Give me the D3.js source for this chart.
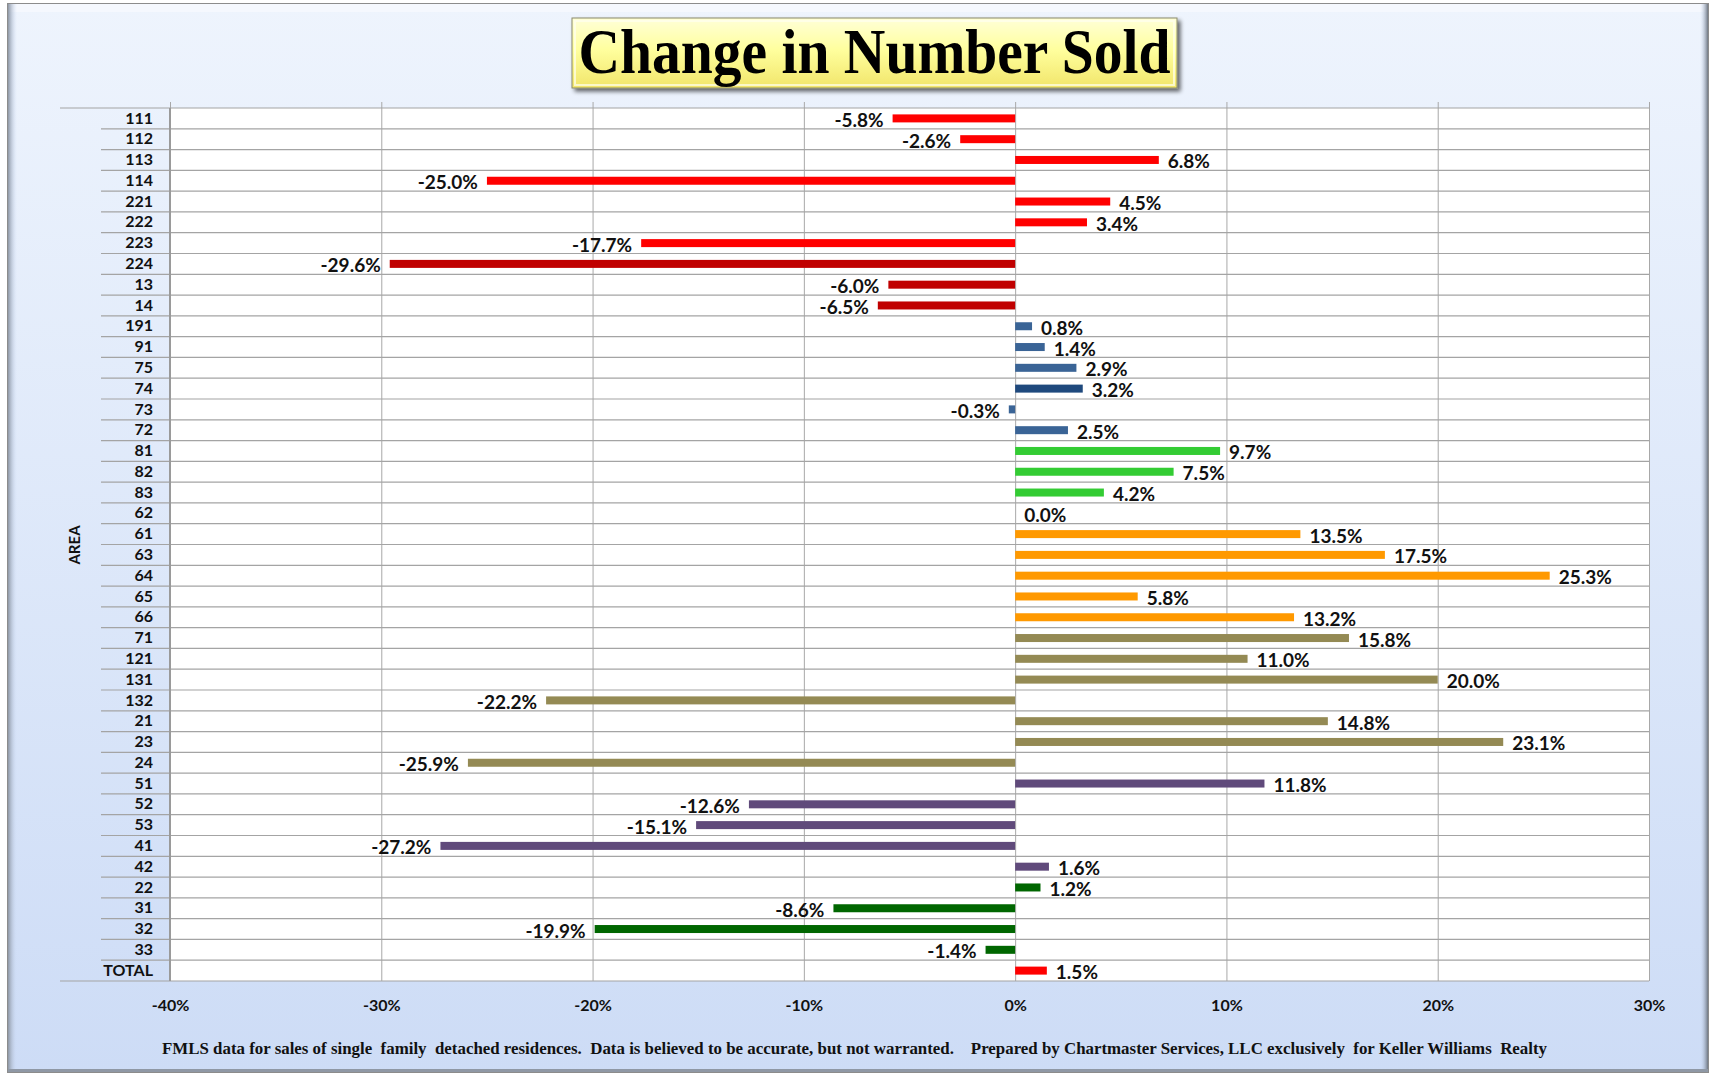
<!DOCTYPE html>
<html>
<head>
<meta charset="utf-8">
<script src="https://d3js.org/d3.v7.min.js"></script>
<style>
  body { margin: 0; background: #fff; }
  svg { display: block; }
  .lbl { font-family: Lato, "Open Sans", sans-serif; font-weight: 700; fill: #111; }
</style>
</head>
<body>
<script>
// areas top to bottom, change in number sold (%) and colour group
const areas = ["111","112","113","114","221","222","223","224","13","14",
  "191","91","75","74","73","72","81","82","83","62",
  "61","63","64","65","66","71","121","131","132","21",
  "23","24","51","52","53","41","42","22","31","32","33","TOTAL"];
const changes = [-5.8,-2.6,6.8,-25.0,4.5,3.4,-17.7,-29.6,-6.0,-6.5,
  0.8,1.4,2.9,3.2,-0.3,2.5,9.7,7.5,4.2,0.0,
  13.5,17.5,25.3,5.8,13.2,15.8,11.0,20.0,-22.2,14.8,
  23.1,-25.9,11.8,-12.6,-15.1,-27.2,1.6,1.2,-8.6,-19.9,-1.4,1.5];
const groups = ["red","red","red","red","red","red","red","darkred","darkred","darkred",
  "blue","blue","blue","navy","blue","blue","lime","lime","lime","orange",
  "orange","orange","orange","orange","orange","olive","olive","olive","olive","olive",
  "olive","olive","purple","purple","purple","purple","purple","green","green","green","green","red"];
const xTicks = [-0.4,-0.3,-0.2,-0.1,0,0.1,0.2,0.3];

const colors = {red:"#ff0000", darkred:"#c00000", blue:"#3a6496", navy:"#1f497d",
  lime:"#33cc33", orange:"#ff9900", olive:"#948a54", purple:"#604a7b", green:"#006600"};

const W = 1716, H = 1075;
const pLeft = 170, pRight = 1649, pTop = 108, pBottom = 981;

const svg = d3.select("body").append("svg").attr("width", W).attr("height", H);
const defs = svg.append("defs");

const bg = defs.append("linearGradient").attr("id","bg").attr("x1",0).attr("y1",0).attr("x2",0).attr("y2",1);
bg.append("stop").attr("offset","0%").attr("stop-color","#eef4fd");
bg.append("stop").attr("offset","100%").attr("stop-color","#cddcf6");

const tg = defs.append("linearGradient").attr("id","tg").attr("x1",0).attr("y1",0).attr("x2",0).attr("y2",1);
tg.append("stop").attr("offset","0%").attr("stop-color","#ffffd8");
tg.append("stop").attr("offset","45%").attr("stop-color","#ffff9e");
tg.append("stop").attr("offset","100%").attr("stop-color","#f1e56a");

const rg = defs.append("linearGradient").attr("id","rg").attr("x1",0).attr("y1",0).attr("x2",1).attr("y2",0);
rg.append("stop").attr("offset","0%").attr("stop-color","#cddcf6").attr("stop-opacity",0);
rg.append("stop").attr("offset","100%").attr("stop-color","#6f7782");

const lg = defs.append("linearGradient").attr("id","lg").attr("x1",0).attr("y1",0).attr("x2",1).attr("y2",0);
lg.append("stop").attr("offset","0%").attr("stop-color","#8d96a3");
lg.append("stop").attr("offset","100%").attr("stop-color","#cddcf6").attr("stop-opacity",0);

const sh = defs.append("filter").attr("id","sh").attr("x","-10%").attr("y","-30%").attr("width","120%").attr("height","160%");
sh.append("feGaussianBlur").attr("in","SourceAlpha").attr("stdDeviation",2);
sh.append("feOffset").attr("dx",3).attr("dy",3).attr("result","o");
sh.append("feComponentTransfer").append("feFuncA").attr("type","linear").attr("slope",0.6);
const mg = sh.append("feMerge");
mg.append("feMergeNode");
mg.append("feMergeNode").attr("in","SourceGraphic");

// frame
svg.append("rect").attr("x",7.5).attr("y",3.5).attr("width",1701).attr("height",1069)
  .attr("fill","url(#bg)").attr("stroke","#8c8c8c");
svg.append("rect").attr("x",8).attr("y",4).attr("width",1700).attr("height",8).attr("fill","#f6f9fe").attr("opacity",0.8);
svg.append("rect").attr("x",8).attr("y",4).attr("width",9).attr("height",1068).attr("fill","url(#lg)");
svg.append("rect").attr("x",1700).attr("y",4).attr("width",8).attr("height",1068).attr("fill","url(#rg)");
svg.append("rect").attr("x",8).attr("y",1069).attr("width",1700).attr("height",3).attr("fill","#8f98a5");

// scales
const x = d3.scaleLinear().domain([-0.4, 0.3]).range([pLeft, pRight]);
const y = d3.scaleBand().domain(areas).range([pTop, pBottom]);

// plot area
svg.append("rect").attr("x",pLeft).attr("y",pTop).attr("width",pRight-pLeft).attr("height",pBottom-pTop).attr("fill","#fff");

// vertical gridlines + tick labels
const xAxis = svg.append("g").attr("transform","translate(0,"+pBottom+")")
  .call(d3.axisBottom(x).tickValues(xTicks).tickSize(-(pBottom-pTop+6)).tickPadding(19)
    .tickFormat(d => Math.round(d*100) + "%"));
xAxis.select(".domain").remove();
xAxis.selectAll("line").attr("stroke","#a8a8a8");
xAxis.selectAll("text").attr("class","lbl").style("font-size","16px");

// row separators
const bounds = areas.map(a => y(a)).concat([pBottom]);
svg.append("g").selectAll("line").data(bounds).join("line")
  .attr("x1",(d,i) => (i === 0 || i === bounds.length-1) ? 60 : 101)
  .attr("x2",pRight)
  .attr("y1",d => d).attr("y2",d => d)
  .attr("stroke","#a4a4a4").attr("stroke-width",1.2);

svg.append("line").attr("x1",pLeft).attr("x2",pLeft).attr("y1",pTop).attr("y2",pBottom)
  .attr("stroke","#9a9a9a").attr("stroke-width",2);

// category axis
const yAxis = svg.append("g").attr("transform","translate("+pLeft+",0)")
  .call(d3.axisLeft(y).tickSize(0).tickPadding(17));
yAxis.select(".domain").remove();
yAxis.selectAll("text").attr("class","lbl").style("font-size","16px");

svg.append("text").attr("class","lbl").attr("transform","translate(80,545) rotate(-90)")
  .attr("text-anchor","middle").style("font-size","15px").text("AREA");

// bars
const bh = 8;
svg.append("g").selectAll("rect").data(areas).join("rect")
  .attr("x",(d,i) => x(Math.min(0, changes[i]/100)))
  .attr("width",(d,i) => Math.abs(x(changes[i]/100) - x(0)))
  .attr("y",d => y(d) + y.bandwidth()/2 - bh/2)
  .attr("height",bh)
  .attr("fill",(d,i) => colors[groups[i]]);

// data labels
svg.append("g").selectAll("text").data(areas).join("text")
  .attr("class","lbl")
  .style("font-size","19px")
  .attr("x",(d,i) => changes[i] >= 0 ? x(changes[i]/100) + 9 : x(changes[i]/100) - 9)
  .attr("y",d => y(d) + y.bandwidth()/2 + 8.5)
  .attr("text-anchor",(d,i) => changes[i] >= 0 ? "start" : "end")
  .text((d,i) => changes[i].toFixed(1) + "%");

// title
const tb = svg.append("g");
tb.append("rect").attr("x",572).attr("y",18).attr("width",605).attr("height",70)
  .attr("fill","url(#tg)").attr("stroke","#8a8a6a").attr("stroke-width",1).attr("filter","url(#sh)");
tb.append("rect").attr("x",575).attr("y",21).attr("width",599).attr("height",64)
  .attr("fill","none").attr("stroke","#fffff0").attr("stroke-width",2).attr("opacity",0.7);
tb.append("text").attr("x",874.5).attr("y",73)
  .attr("text-anchor","middle")
  .attr("textLength",592).attr("lengthAdjust","spacingAndGlyphs")
  .style("font-family","'Liberation Serif', 'DejaVu Serif', serif")
  .style("font-weight","700").style("font-size","64px").style("fill","#000")
  .text("Change in Number Sold");

// footer
svg.append("text").attr("x",162).attr("y",1054)
  .attr("textLength",1385).attr("lengthAdjust","spacingAndGlyphs")
  .attr("xml:space","preserve")
  .style("white-space","pre")
  .style("font-family","'Liberation Serif', serif").style("font-weight","700").style("font-size","16.5px")
  .style("fill","#111")
  .text("FMLS data for sales of single  family  detached residences.  Data is believed to be accurate, but not warranted.    Prepared by Chartmaster Services, LLC exclusively  for Keller Williams  Realty");
</script>
</body>
</html>
